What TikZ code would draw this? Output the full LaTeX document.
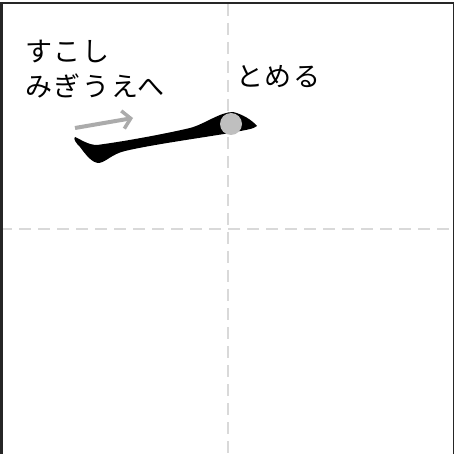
\documentclass[tikz,border=0pt]{standalone}
\usepackage{fontspec}
\newfontfamily\jp[LetterSpace=6]{Noto Sans CJK JP}
\tikzset{
  guide/.style={draw=black!15, line width=2.5pt, dash pattern=on 12pt off 7pt},
  frameline/.style={draw=black!85, line width=2.5pt},
  lbl/.style={font=\jp\fontsize{27}{34}\selectfont, inner sep=0pt, align=left, anchor=west},
  hint/.style={draw=black!33, line width=4pt, -{Straight Barb[length=8pt,width=18pt,line width=3.5pt]}}
}
\usetikzlibrary{arrows.meta}
\begin{document}
\begin{tikzpicture}[x=1pt,y=-1pt]
\useasboundingbox (0,0) rectangle (455,454);
\fill[white] (0,0) rectangle (455,454);
% guides
\coordinate (vt) at (228,4); \coordinate (vb) at (228,454);
\coordinate (hl) at (0,229); \coordinate (hr) at (455,229);
\draw[guide] (vt) -- (vb);
\draw[guide] (hl) -- (hr);
% frame
\coordinate (fbl) at (1.5,454); \coordinate (ftl) at (1.5,3); \coordinate (ftr) at (453.5,3); \coordinate (fbr) at (453.5,454);
\draw[frameline] (fbl) -- (ftl) -- (ftr);
\draw[draw=black!85, line width=1.5pt] (ftr) -- (fbr);
% stroke
\fill[black] (75,137) .. controls (80,139) and (88,145) .. (97,145)
  .. controls (120,142) and (160,135) .. (190,128)
  .. controls (205,124) and (220,112) .. (233,112)
  .. controls (242,114) and (252,120) .. (257,126)
  .. controls (254,129) and (245,130) .. (230,133)
  .. controls (200,138) and (150,145) .. (125,151)
  .. controls (112,154) and (106,162) .. (99,163)
  .. controls (92,163) and (86,155) .. (80,147)
  .. controls (76,143) and (73,139) .. (75,137) -- cycle;
\node[circle, fill=black!25, minimum size=22pt, inner sep=0pt] (dot) at (231,124) {};
% arrow
\coordinate (as) at (75,128); \coordinate (ae) at (133,118);
\draw[hint] (as) -- (ae);
% labels
\node[lbl] (t1) at (25,52) {すこし};
\node[lbl] (t2) at (25,86) {みぎうえへ};
\node[lbl] (t3) at (236,77) {とめる};
\end{tikzpicture}
\end{document}
